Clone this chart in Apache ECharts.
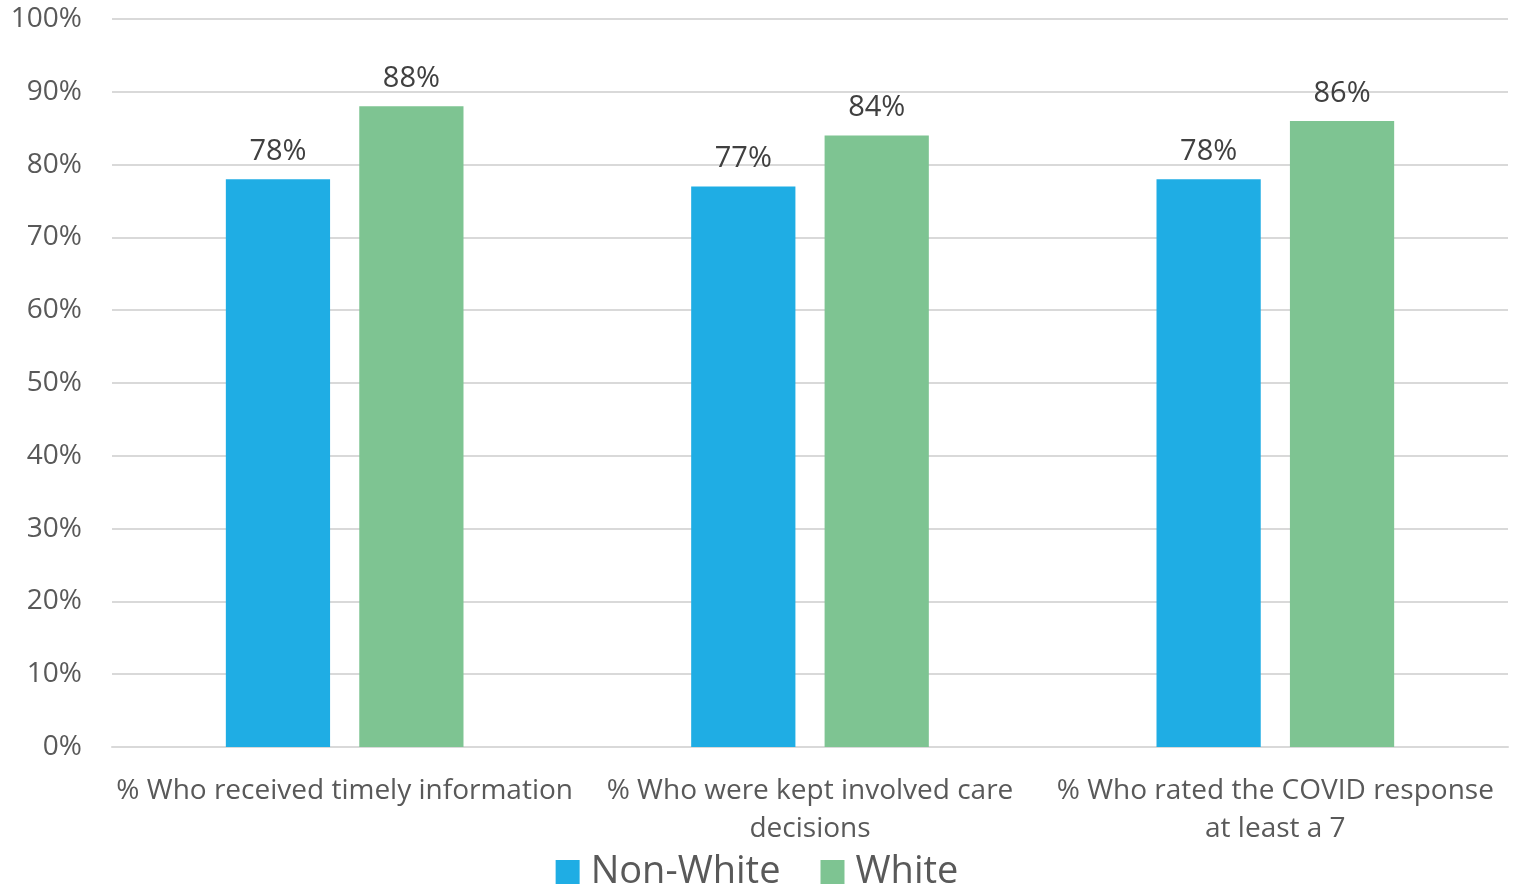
<!DOCTYPE html>
<html><head><meta charset="utf-8">
<script src="https://cdn.jsdelivr.net/npm/echarts@6/dist/echarts.min.js"></script>
<style>html,body{margin:0;padding:0;background:#fff}#c{width:1514px;height:890px}</style>
</head><body><div id="c"></div>
<script>
const categories = ['% Who received timely information', '% Who were kept involved care\ndecisions', '% Who rated the COVID response\nat least a 7'];
const nonWhite = [78, 77, 78];
const white = [88, 84, 86];
const seriesNames = ['Non-White', 'White'];

const chart = echarts.init(document.getElementById('c'), null, {renderer: 'canvas'});
const font = '"Open Sans", "Segoe UI", sans-serif';
const lbl = {show: true, position: 'top', distance: 13, formatter: '{c}%', color: '#404040', fontSize: 29, fontFamily: font};
chart.setOption({
  animation: false,
  grid: {left: 112, right: 6, top: 19, bottom: 143, containLabel: false},
  legend: {
    data: seriesNames, bottom: -6, left: 'center', itemWidth: 24, itemHeight: 24, itemGap: 40,
    icon: 'rect', textStyle: {fontSize: 38, color: '#595959', fontFamily: font, padding: [0, 0, 0, 6]}
  },
  xAxis: {
    type: 'category', data: categories,
    axisLine: {lineStyle: {color: '#D9D9D9', width: 2}}, axisTick: {show: false},
    axisLabel: {fontSize: 28, color: '#595959', fontFamily: font, margin: 25, lineHeight: 38, interval: 0}
  },
  yAxis: {
    type: 'value', min: 0, max: 100, interval: 10,
    axisLabel: {formatter: '{value}%', fontSize: 28, color: '#595959', fontFamily: font, margin: 30},
    splitLine: {lineStyle: {color: '#D9D9D9', width: 2}}, axisLine: {show: false}, axisTick: {show: false}
  },
  series: [
    {name: seriesNames[0], type: 'bar', data: nonWhite, barWidth: '22.4%', barGap: '28%', itemStyle: {color: '#1FADE4'}, label: lbl},
    {name: seriesNames[1], type: 'bar', data: white, barWidth: '22.4%', itemStyle: {color: '#7EC492'}, label: lbl}
  ]
});
</script></body></html>
